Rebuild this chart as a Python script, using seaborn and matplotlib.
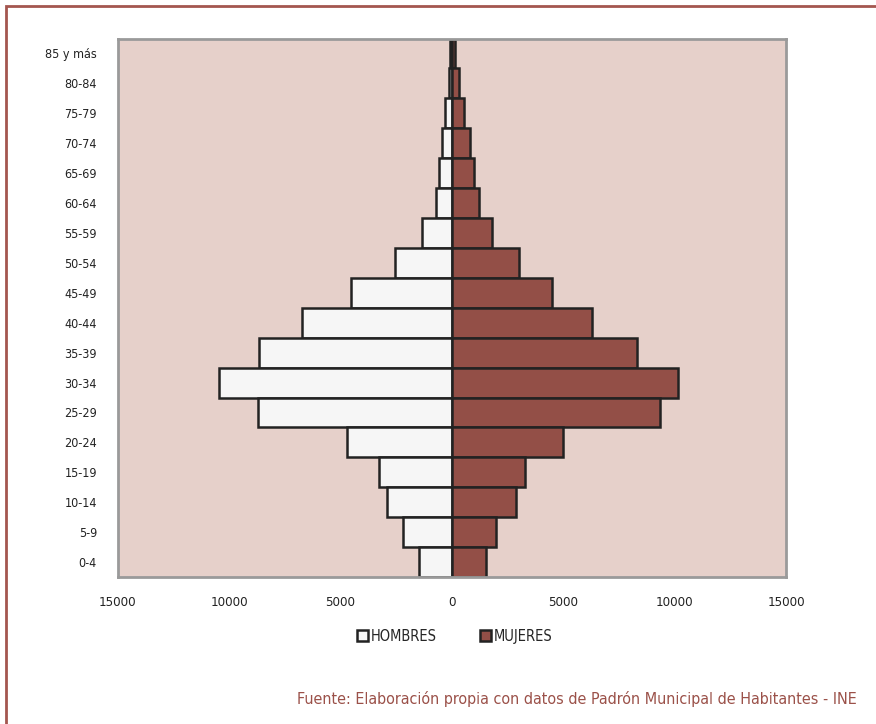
import matplotlib
matplotlib.use("Agg")
import matplotlib.pyplot as plt
from matplotlib.patches import Patch, Rectangle
from matplotlib.ticker import FuncFormatter
import seaborn as sns
import pandas as pd

# Age groups, oldest at the top
grupos = ["85 y más", "80-84", "75-79", "70-74", "65-69", "60-64", "55-59",
          "50-54", "45-49", "40-44", "35-39", "30-34", "25-29", "20-24",
          "15-19", "10-14", "5-9", "0-4"]
hombres = [70, 135, 330, 460, 600, 700, 1330, 2545, 4520, 6750, 8670,
           10460, 8725, 4700, 3290, 2905, 2215, 1495]
mujeres = [120, 300, 540, 795, 990, 1215, 1795, 3010, 4475, 6285, 8310,
           10165, 9325, 5000, 3265, 2890, 1975, 1545]
xticks = [-15000, -10000, -5000, 0, 5000, 10000, 15000]

c_h = "#f6f6f6"
c_m = "#934f47"
fondo = "#e6d0ca"
borde = "#a4564f"

sns.set_theme(style="white")
plt.rcParams["font.family"] = ["DejaVu Sans"]
plt.rcParams["font.stretch"] = "condensed"

df = pd.DataFrame({"grupo": grupos, "hombres": [-v for v in hombres], "mujeres": mujeres})

fig = plt.figure(figsize=(8.76, 7.24), dpi=100)
ax = fig.add_axes([0.1344, 0.2030, 0.7629, 0.7438])
ax.set_facecolor(fondo)

sns.barplot(data=df, x="hombres", y="grupo", order=grupos, color=c_h, orient="h",
            width=1.0, edgecolor="#222222", linewidth=1.8, saturation=1, ax=ax)
sns.barplot(data=df, x="mujeres", y="grupo", order=grupos, color=c_m, orient="h",
            width=1.0, edgecolor="#222222", linewidth=1.8, saturation=1, ax=ax)

ax.set_xlim(-15000, 15000)
ax.set_ylim(len(grupos) - 0.5, -0.5)
ax.set_xticks(xticks)
ax.xaxis.set_major_formatter(FuncFormatter(lambda v, p: f"{abs(int(v))}"))
ax.set_xlabel("")
ax.set_ylabel("")
ax.tick_params(axis="x", length=0, pad=14, labelsize=9.5, colors="#222222")
ax.tick_params(axis="y", length=0, pad=15, labelsize=9, colors="#222222")
for s in ax.spines.values():
    s.set_visible(True)
    s.set_color("#9a9a9a")
    s.set_linewidth(2)

handles = [Patch(facecolor=c_h, edgecolor="#222222", linewidth=1.8, label="HOMBRES"),
           Patch(facecolor=c_m, edgecolor="#222222", linewidth=1.8, label="MUJERES")]
fig.legend(handles=handles, loc="center", bbox_to_anchor=(0.519, 0.121), ncol=2,
           frameon=False, fontsize=10.5, handlelength=0.75, handleheight=0.75,
           handletextpad=0.15, columnspacing=3.0)

fig.text(0.978, 0.034, "Fuente: Elaboración propia con datos de Padrón Municipal de Habitantes - INE",
         ha="right", va="center", fontsize=11.5, color="#9b5149")

# Page frame
fig.add_artist(Rectangle((6 / 876, -0.1), 1.2, 1.1 - 6 / 724,
                         transform=fig.transFigure, fill=False,
                         edgecolor=borde, linewidth=2))

fig.savefig("out.png", dpi=100)
